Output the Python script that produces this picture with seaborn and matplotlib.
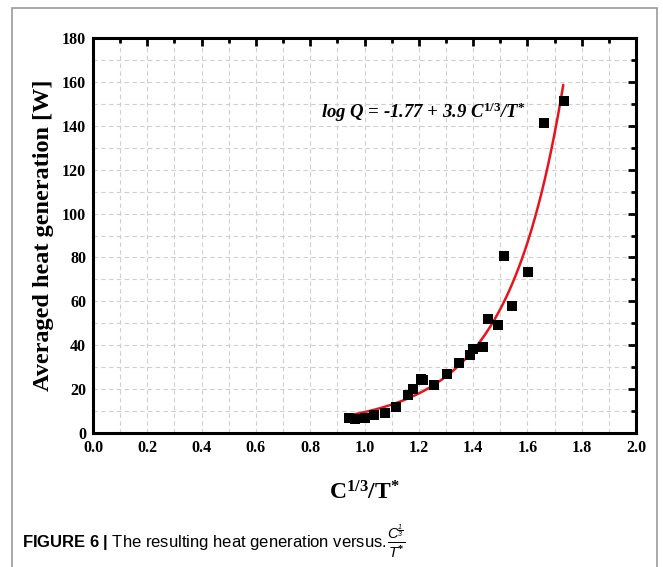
import numpy as np
import pandas as pd
import matplotlib
matplotlib.use("Agg")
import matplotlib.pyplot as plt
from matplotlib.patches import Rectangle
from matplotlib.ticker import MultipleLocator
import seaborn as sns

# ---- data ----
x_vals = [0.943, 0.965, 1.002, 1.036, 1.075, 1.116, 1.159, 1.178, 1.207, 1.217,
          1.257, 1.303, 1.349, 1.389, 1.401, 1.438, 1.456, 1.491, 1.514, 1.542,
          1.601, 1.662, 1.736]
q_vals = [6.7, 6.4, 6.7, 8.3, 9.1, 11.7, 17.3, 20.2, 24.7, 24.2,
          21.9, 26.8, 31.8, 35.6, 38.4, 39.2, 51.8, 49.1, 80.8, 57.9,
          73.5, 141.1, 151.4]
# fitted curve (log-space quadratic approximating the drawn red fit line)
fit_coef = [0.525, 0.509, 1.22]
fit_range = [0.934, 1.732]

x_ticks = [0.0, 0.2, 0.4, 0.6, 0.8, 1.0, 1.2, 1.4, 1.6, 1.8, 2.0]
y_ticks = [0, 20, 40, 60, 80, 100, 120, 140, 160, 180]

sns.set_theme(style="white")
plt.rcParams['font.family'] = ['Liberation Serif', 'DejaVu Serif']
plt.rcParams['text.color'] = 'black'
plt.rcParams['axes.labelcolor'] = 'black'
plt.rcParams['xtick.color'] = 'black'
plt.rcParams['ytick.color'] = 'black'
plt.rcParams['mathtext.fontset'] = 'custom'
plt.rcParams['mathtext.rm'] = 'Liberation Serif:bold'
plt.rcParams['mathtext.it'] = 'Liberation Serif:bold:italic'
plt.rcParams['mathtext.bf'] = 'Liberation Sans:bold'
plt.rcParams['mathtext.sf'] = 'Liberation Sans:italic'

fig = plt.figure(figsize=(6.63, 5.67), dpi=100)
ax = fig.add_axes([0.1403, 0.2363, 0.9593 - 0.1403, 0.933 - 0.2363])

df = pd.DataFrame({"x": x_vals, "Q": q_vals})
xs = np.linspace(fit_range[0], fit_range[1], 200)
fit_df = pd.DataFrame({"x": xs, "Q": np.exp(fit_coef[0] + fit_coef[1] * xs + fit_coef[2] * xs ** 2)})

sns.lineplot(data=fit_df, x="x", y="Q", ax=ax, color="#e8141c", lw=1.8, zorder=3)
sns.scatterplot(data=df, x="x", y="Q", ax=ax, marker="s", s=48, color="black",
                edgecolor="black", linewidth=0, zorder=4)

ax.set_xlim(0, 2.0)
ax.set_ylim(0, 180)
ax.set_xticks(x_ticks)
ax.set_yticks(y_ticks)
ax.set_xticklabels([f"{v:.1f}" for v in x_ticks], fontweight="bold", fontsize=11.5)
ax.set_yticklabels([str(v) for v in y_ticks], fontweight="bold", fontsize=11.5)
ax.xaxis.set_minor_locator(MultipleLocator(0.1))
ax.yaxis.set_minor_locator(MultipleLocator(10))
ax.tick_params(which="both", direction="in", top=True, right=True, colors="black")
ax.tick_params(which="major", length=6, width=2, pad=5)
ax.tick_params(which="minor", length=3.5, width=2)
ax.tick_params(axis="x", which="both", labeltop=False)
ax.grid(True, which="both", color="#cfcfcf", linestyle=(0, (4, 3)), lw=0.8, zorder=0)
for s in ax.spines.values():
    s.set_linewidth(2.2)
    s.set_color("black")
    s.set_visible(True)

ax.set_xlabel(r"$\mathrm{C}^{\mathrm{1/3}}\mathrm{/T}^{*}$", fontsize=17, labelpad=18)
ax.set_ylabel("Averaged heat generation [W]", fontsize=17.5, fontweight="bold", labelpad=6)

ax.text(0.84, 146, r"log Q = -1.77 + 3.9 C$^{\mathit{1/3}}$/T$^{*}$",
        fontsize=13.5, fontstyle="italic", fontweight="bold", ha="left", va="center")

# figure frame and caption
fig.patches.append(Rectangle((12 / 663, -0.05), (657 - 12) / 663, 1.05 - 8 / 567,
                             transform=fig.transFigure, fill=False, edgecolor="#999999",
                             lw=1.2))
cap = fig.text(22 / 663, 1 - 543 / 567,
               r"$\mathbf{FIGURE\ 6\ |}$ The resulting heat generation versus.",
               fontsize=12, family="Liberation Sans", ha="left", va="center")
fig.canvas.draw()
bb = cap.get_window_extent()
fig.text(bb.x1 / fig.bbox.width + 0.001, 1 - 541 / 567,
         r"$\frac{\mathsf{C}^{\frac{\mathsf{1}}{\mathsf{3}}}}{\mathsf{T}^{*}}$",
         fontsize=15, family="Liberation Sans", ha="left", va="center")

fig.savefig("out.png", dpi=100)
